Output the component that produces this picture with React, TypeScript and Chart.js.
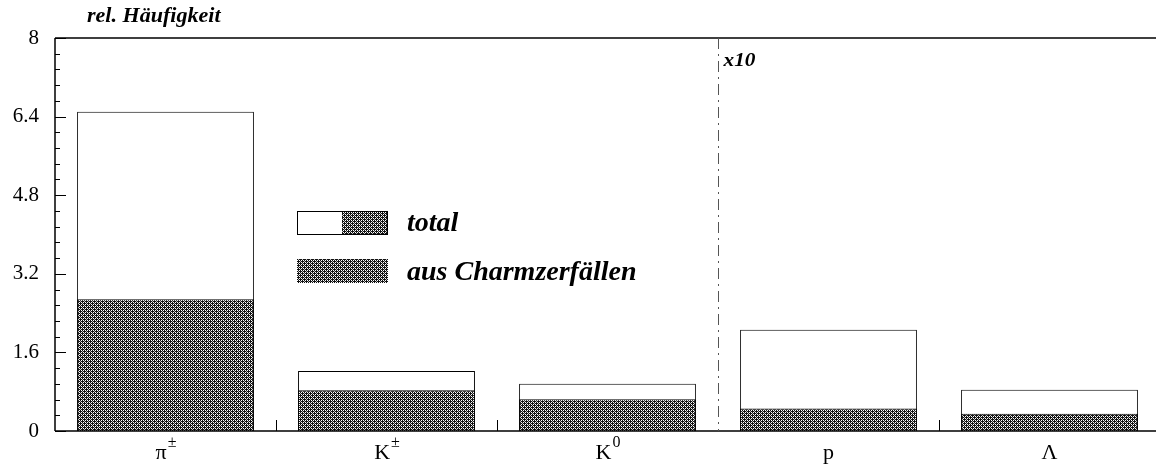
import React, { useEffect, useRef } from "react";
import { Chart, registerables } from "chart.js";

Chart.register(...registerables);

// Particle categories (base symbol + superscript)
const labelBase = ["π", "K", "K", "p", "Λ"];
const labelSup = ["±", "±", "0", "", ""];
const categories = labelBase.map((b, i) => b + labelSup[i]);

// relative frequency (p and Λ shown ×10)
const totalValues = [6.5, 1.22, 0.96, 2.06, 0.84];
const charmValues = [2.68, 0.83, 0.645, 0.46, 0.35];

const yMin = 0;
const yMax = 8;
const yStep = 1.6;
const yMinorStep = 0.32;

const yTitle = "rel. Häufigkeit";
const scaleNote = "x10";
const legendTotal = "total";
const legendCharm = "aus Charmzerfällen";

const SERIF = "'Liberation Serif', 'Times New Roman', serif";

function makePattern(): CanvasPattern | string {
  const c = document.createElement("canvas");
  c.width = 4;
  c.height = 4;
  const g = c.getContext("2d");
  if (!g) return "#444";
  g.fillStyle = "#111";
  g.fillRect(0, 0, 4, 4);
  g.fillStyle = "#fff";
  const dots = [
    [1, 0],
    [3, 2],
    [1, 2],
    [3, 0],
  ];
  dots.forEach(([x, y]) => g.fillRect(x, y, 1, 1));
  g.fillStyle = "#bbb";
  g.fillRect(0, 1, 1, 1);
  g.fillRect(2, 3, 1, 1);
  const p = g.createPattern(c, "repeat");
  return p || "#444";
}

function stretchText(
  ctx: CanvasRenderingContext2D,
  text: string,
  x: number,
  y: number,
  sx: number
) {
  ctx.save();
  ctx.translate(x, y);
  ctx.scale(sx, 1);
  ctx.fillText(text, 0, 0);
  ctx.restore();
}

export default function App() {
  const ref = useRef<HTMLCanvasElement | null>(null);

  useEffect(() => {
    const canvas = ref.current;
    if (!canvas) return;
    const pattern = makePattern();

    const decor = {
      id: "decor",
      afterDatasetsDraw(chart: any) {
        const ctx = chart.ctx as CanvasRenderingContext2D;
        const area = chart.chartArea;
        const xs = chart.scales.x;
        const ys = chart.scales.y;
        ctx.save();
        ctx.strokeStyle = "#000";
        ctx.lineWidth = 1.5;
        // frame: left, top, bottom
        ctx.beginPath();
        ctx.moveTo(area.left, area.top);
        ctx.lineTo(area.left, area.bottom);
        ctx.moveTo(area.left, area.top);
        ctx.lineTo(chart.width, area.top);
        ctx.moveTo(area.left, area.bottom);
        ctx.lineTo(chart.width, area.bottom);
        ctx.stroke();

        // y ticks (inward)
        ctx.lineWidth = 1;
        ctx.beginPath();
        const nMinor = Math.round((yMax - yMin) / yMinorStep);
        for (let i = 0; i <= nMinor; i++) {
          const v = yMin + i * yMinorStep;
          const y = Math.round(ys.getPixelForValue(v)) + 0.5;
          const major = i % 5 === 0;
          ctx.moveTo(area.left, y);
          ctx.lineTo(area.left + (major ? 11 : 5), y);
        }
        ctx.stroke();

        // category separators
        const n = categories.length;
        const bounds: number[] = [];
        for (let i = 0; i < n - 1; i++) {
          bounds.push((xs.getPixelForValue(i) + xs.getPixelForValue(i + 1)) / 2);
        }
        ctx.beginPath();
        bounds.forEach((bx, i) => {
          if (i === 2) return;
          const x = Math.round(bx) + 0.5;
          ctx.moveTo(x, area.bottom);
          ctx.lineTo(x, area.bottom - 11);
        });
        ctx.stroke();

        // dash-dot divider (x10 region)
        const dx = Math.round(bounds[2]) + 0.5;
        ctx.strokeStyle = "#555";
        ctx.setLineDash([11, 5, 2, 5]);
        ctx.beginPath();
        ctx.moveTo(dx, area.top);
        ctx.lineTo(dx, area.bottom);
        ctx.stroke();
        ctx.setLineDash([]);

        // x10 note
        ctx.fillStyle = "#000";
        ctx.textAlign = "left";
        ctx.textBaseline = "alphabetic";
        ctx.font = `bold italic 19px ${SERIF}`;
        stretchText(ctx, scaleNote, dx + 5, 66, 1.12);

        // y title
        ctx.font = `bold italic 21px ${SERIF}`;
        stretchText(ctx, yTitle, 87, 22, 1.05);

        // x labels with superscripts
        for (let i = 0; i < n; i++) {
          const cx = xs.getPixelForValue(i);
          ctx.font = `22px ${SERIF}`;
          const bw = ctx.measureText(labelBase[i]).width;
          ctx.font = `16px ${SERIF}`;
          const sw = labelSup[i] ? ctx.measureText(labelSup[i]).width : 0;
          const start = cx - (bw + sw) / 2;
          ctx.font = `22px ${SERIF}`;
          ctx.fillText(labelBase[i], start, 459);
          if (labelSup[i]) {
            ctx.font = `16px ${SERIF}`;
            ctx.fillText(labelSup[i], start + bw + 1, 447);
          }
        }

        // legend
        const lx = 297, lw = 90, lh = 23;
        const ly1 = 211, ly2 = 259;
        ctx.fillStyle = "#fff";
        ctx.fillRect(lx, ly1, lw / 2, lh);
        ctx.fillStyle = pattern as any;
        ctx.fillRect(lx + lw / 2, ly1, lw / 2, lh);
        ctx.strokeStyle = "#000";
        ctx.lineWidth = 1;
        ctx.strokeRect(lx + 0.5, ly1 + 0.5, lw, lh);
        ctx.fillRect(lx, ly2, lw + 1, lh + 1);

        ctx.fillStyle = "#000";
        ctx.font = `bold italic 28px ${SERIF}`;
        ctx.fillText(legendTotal, 407, 231);
        ctx.fillText(legendCharm, 407, 280);
        ctx.restore();
      },
    };

    const chart = new Chart(canvas, {
      type: "bar",
      data: {
        labels: categories,
        datasets: [
          {
            label: legendCharm,
            data: charmValues,
            backgroundColor: pattern as any,
            borderColor: "#000",
            borderWidth: 1,
            order: 0,
          },
          {
            label: legendTotal,
            data: totalValues,
            backgroundColor: "#fff",
            borderColor: "#000",
            borderWidth: 1,
            order: 1,
          },
        ],
      },
      options: {
        responsive: false,
        animation: false,
        devicePixelRatio: 1,
        layout: { padding: { left: 0, top: 38, right: 10, bottom: 0 } },
        plugins: {
          legend: { display: false },
          tooltip: { enabled: false },
          title: { display: false },
        },
        datasets: {
          bar: { categoryPercentage: 0.8, barPercentage: 1 },
        },
        scales: {
          x: {
            stacked: true,
            grid: { display: false, drawTicks: false },
            border: { display: false },
            ticks: { display: false },
            afterFit: (s: any) => {
              s.height = 38;
            },
          },
          y: {
            stacked: false,
            min: yMin,
            max: yMax,
            grid: { display: false, drawTicks: false, tickLength: 0 },
            border: { display: false },
            ticks: {
              stepSize: yStep,
              padding: 16,
              color: "#000",
              font: { family: SERIF, size: 21 },
              callback: (v: any) => String(Math.round(Number(v) * 10) / 10),
            },
            afterFit: (s: any) => {
              s.width = 55;
            },
          },
        },
      },
      plugins: [decor],
    });
    return () => chart.destroy();
  }, []);

  return (
    <div
      style={{
        position: "absolute",
        left: 0,
        top: 0,
        width: 1156,
        height: 469,
        overflow: "hidden",
        background: "#fff",
      }}
    >
      <canvas ref={ref} width={1170} height={469} style={{ display: "block" }} />
    </div>
  );
}
